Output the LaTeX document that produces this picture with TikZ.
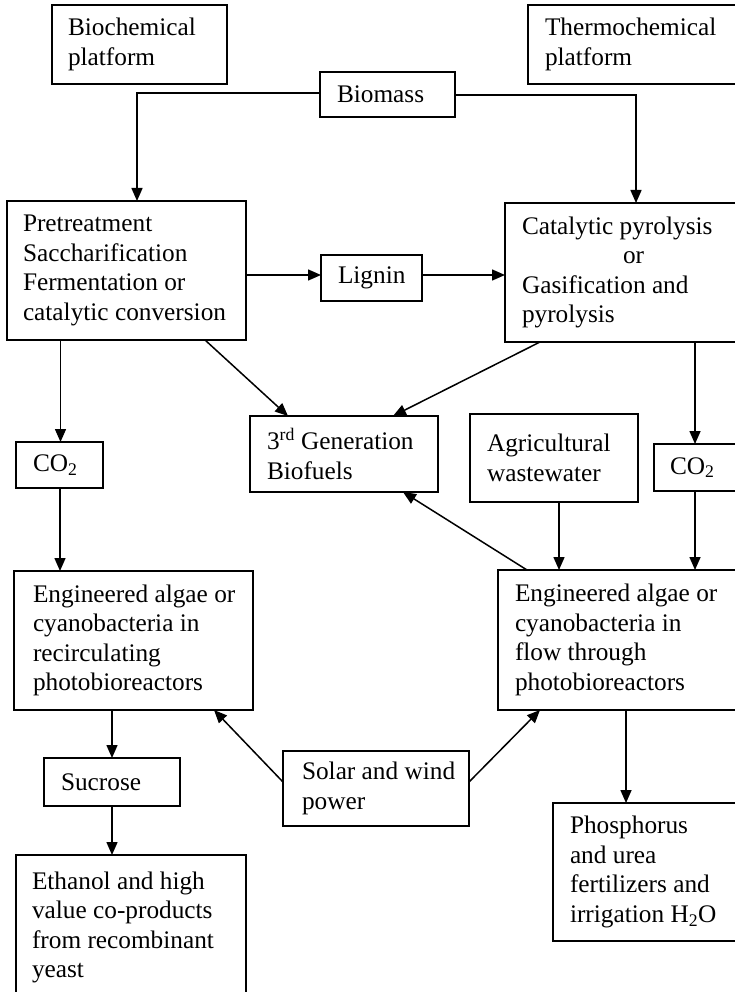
\documentclass[tikz,border=0pt]{standalone}
\usepackage{fontspec}
\setmainfont{Liberation Serif}
\usetikzlibrary{arrows.meta}
\begin{document}
\begin{tikzpicture}[x=1pt,y=-1pt,
  box/.style={draw, line width=1.1pt, rectangle, anchor=north west,
    inner sep=0pt, outer sep=0pt},
  lbl/.style={anchor=west, align=left, inner sep=0pt, outer sep=0pt,
    font=\fontsize{25.3}{29.5}\selectfont},
  arr/.style={line width=1.5pt, -{Triangle[length=13pt,width=11pt]}}]
\useasboundingbox (0,0) rectangle (735,992);
\clip (0,0) rectangle (735,992);
\fill[white] (0,0) rectangle (735,992);

% boxes
\node[box, minimum width=175pt, minimum height=79pt] (bio) at (52,5) {};
\node[box, minimum width=217pt, minimum height=79pt] (thermo) at (528,5) {};
\node[box, minimum width=135pt, minimum height=45pt] (biomass) at (320,72) {};
\node[box, minimum width=239pt, minimum height=139pt] (pre) at (7,201) {};
\node[box, minimum width=101pt, minimum height=46pt] (lignin) at (321,255) {};
\node[box, minimum width=240pt, minimum height=139pt] (cat) at (505,203) {};
\node[box, minimum width=87pt, minimum height=46pt] (co2L) at (16,442) {};
\node[box, minimum width=188pt, minimum height=76pt] (gen) at (250,416) {};
\node[box, minimum width=168pt, minimum height=88pt] (agri) at (470,414) {};
\node[box, minimum width=91pt, minimum height=47pt] (co2R) at (654,444) {};
\node[box, minimum width=239pt, minimum height=139pt] (engL) at (14,571) {};
\node[box, minimum width=247pt, minimum height=140pt] (engR) at (498,570) {};
\node[box, minimum width=136pt, minimum height=48pt] (sucrose) at (44,758) {};
\node[box, minimum width=186pt, minimum height=75pt] (solar) at (283,751) {};
\node[box, minimum width=230pt, minimum height=145pt] (ethanol) at (16,855) {};
\node[box, minimum width=192pt, minimum height=138pt] (phos) at (553,803) {};

% texts
\node[lbl] (bioT) at ([xshift=16pt]bio.west) {Biochemical\\platform};
\node[lbl] (thermoT) at ([xshift=17pt]thermo.west) {Thermochemical\\platform};
\node[lbl] (biomassT) at ([xshift=17pt]biomass.west) {Biomass};
\node[lbl] (preT) at ([xshift=16pt]pre.west) {Pretreatment\\Saccharification\\Fermentation or\\catalytic conversion};
\node[lbl] (ligninT) at ([xshift=17pt]lignin.west) {Lignin};
\node[lbl] (catT) at ([xshift=17pt]cat.west) {Catalytic pyrolysis\\\hspace*{101pt}or\\Gasification and\\pyrolysis};
\node[lbl] (co2LT) at ([xshift=17pt]co2L.west) {CO\textsubscript{2}};
\node[lbl] (genT) at ([xshift=17pt]gen.west) {3\textsuperscript{rd} Generation\\Biofuels};
\node[lbl] (agriT) at ([xshift=17pt]agri.west) {Agricultural\\wastewater};
\node[lbl] (co2RT) at ([xshift=16pt]co2R.west) {CO\textsubscript{2}};
\node[lbl] (engLT) at ([xshift=19pt]engL.west) {Engineered algae or\\cyanobacteria in\\recirculating\\photobioreactors};
\node[lbl] (engRT) at ([xshift=17pt]engR.west) {Engineered algae or\\cyanobacteria in\\flow through\\photobioreactors};
\node[lbl] (sucroseT) at ([xshift=17pt]sucrose.west) {Sucrose};
\node[lbl] (solarT) at ([xshift=19pt]solar.west) {Solar and wind\\power};
\node[lbl] (ethanolT) at ([xshift=16pt]ethanol.west) {Ethanol and high\\value co-products\\from recombinant\\yeast};
\node[lbl] (phosT) at ([xshift=17pt]phos.west) {Phosphorus\\and urea\\fertilizers and\\irrigation H\textsubscript{2}O};

% Biomass split
\draw[arr] ([yshift=1.5pt]biomass.west) -| ([xshift=10.5pt]pre.north);
\draw[arr] ([yshift=-0.5pt]biomass.east) -| ([xshift=11pt]cat.north);

% Lignin path
\coordinate (l1) at ([yshift=-4.5pt]pre.east);
\draw[arr] (l1) -- (l1 -| lignin.west);
\coordinate (l2) at ([yshift=3pt]lignin.east);
\draw[arr] (l2) -- (l2 -| cat.west);

% Left CO2 chain
\coordinate (c1) at ([xshift=-66pt]pre.south);
\draw[arr] (c1) -- (c1 |- co2L.north);
\coordinate (c2) at ([xshift=0.5pt]co2L.south);
\draw[arr] (c2) -- (c2 |- engL.north);

% Right CO2 chain
\coordinate (c3) at ([xshift=70pt]cat.south);
\draw[arr] (c3) -- (c3 |- co2R.north);
\coordinate (c4) at (c3 |- co2R.south);
\draw[arr] (c4) -- (c4 |- engR.north);

% Agricultural wastewater
\coordinate (a1) at ([xshift=5pt]agri.south);
\draw[arr] (a1) -- (a1 |- engR.north);

% To 3rd generation biofuels
\draw[arr] ([xshift=78.5pt]pre.south) -- ([xshift=-56pt]gen.north);
\draw[arr] ([xshift=-85pt]cat.south) -- ([xshift=49pt]gen.north);
\draw[arr] ([xshift=-94.5pt]engR.north) -- ([xshift=59pt]gen.south);

% Sucrose chain
\draw[arr] (engL.south -| sucrose.north) -- (sucrose.north);
\draw[arr] (sucrose.south) -- (sucrose.south |- ethanol.north);

% Solar and wind power
\draw[arr] ([yshift=6.5pt]solar.west) -- ([xshift=80.5pt]engL.south);
\draw[arr] ([yshift=6.5pt]solar.east) -- ([xshift=-81.5pt]engR.south);

% Phosphorus
\coordinate (p1) at ([xshift=4.5pt]engR.south);
\draw[arr] (p1) -- (p1 |- phos.north);
\end{tikzpicture}
\end{document}
